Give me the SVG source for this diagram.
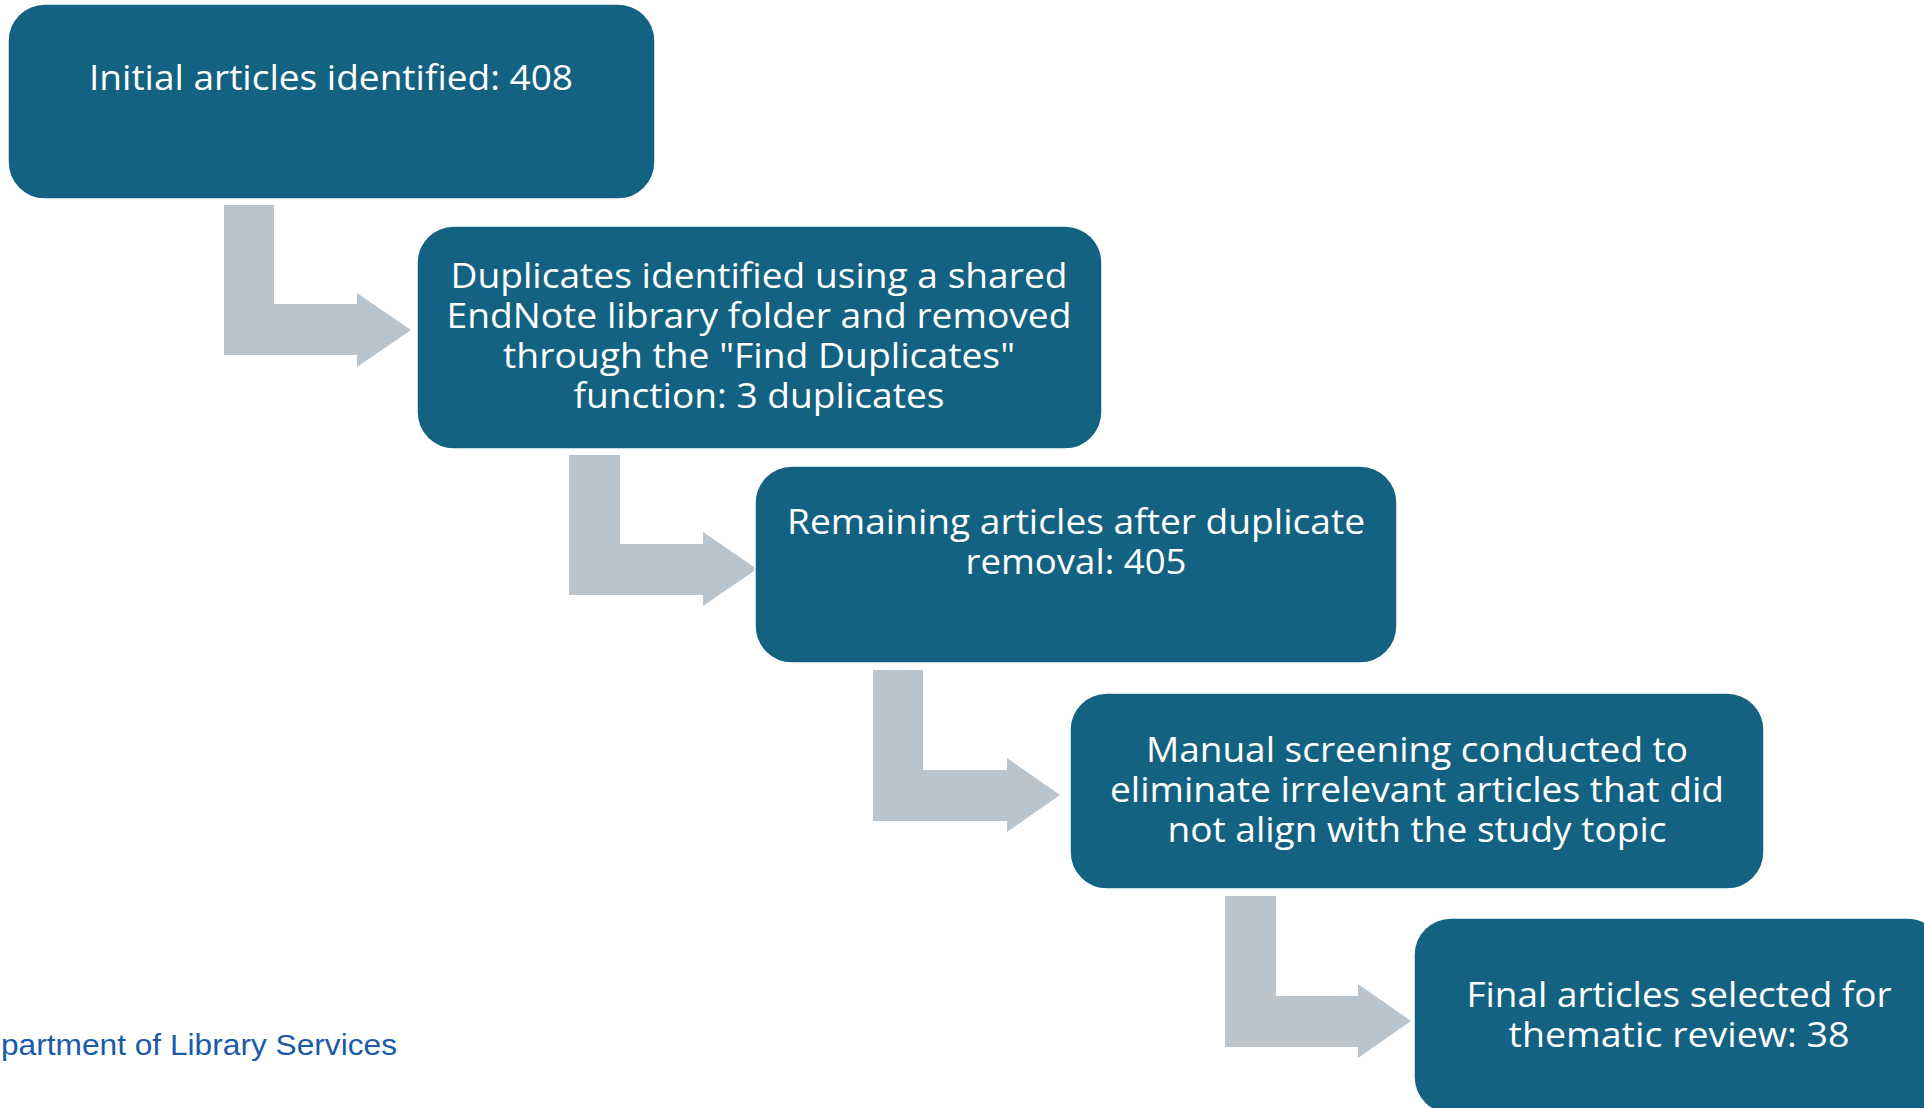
<svg xmlns="http://www.w3.org/2000/svg" width="1924" height="1108" viewBox="0 0 1924 1108">
<style>
.box{fill:#146282;stroke:#ffffff;stroke-width:1.5}
.arr{fill:#bac4cd}
.t{font-family:"Open Sans","Noto Sans",sans-serif;font-size:34px;fill:#ffffff;text-anchor:middle}
.foot{font-family:"Liberation Sans",Arial,sans-serif;font-size:29px;fill:#1a5aa8}
</style>
<rect width="1924" height="1108" fill="#ffffff"/>
<g id="connectors">
<path class="arr" d="M224,205 H274 V304 H357 V293 L411,330 L357,367 V355 H224 Z"/>
<path class="arr" d="M569,455 H620 V544 H703 V532 L757,569 L703,606 V595 H569 Z"/>
<path class="arr" d="M873,670 H923 V770 H1007 V758 L1060,795 L1007,832 V821 H873 Z"/>
<path class="arr" d="M1225,896 H1276 V996 H1358 V984 L1411,1021 L1358,1058 V1047 H1225 Z"/>
</g>
<g id="node1">
<rect class="box" x="8" y="4" width="647" height="195" rx="37"/>
<text class="t" x="331" y="90" textLength="484" lengthAdjust="spacingAndGlyphs">Initial articles identified: 408</text>
</g>
<g id="node2">
<rect class="box" x="417" y="226" width="685" height="223" rx="37"/>
<text class="t" x="759" y="288" textLength="617" lengthAdjust="spacingAndGlyphs">Duplicates identified using a shared</text>
<text class="t" x="759" y="328" textLength="625" lengthAdjust="spacingAndGlyphs">EndNote library folder and removed</text>
<text class="t" x="759" y="368" textLength="512" lengthAdjust="spacingAndGlyphs">through the "Find Duplicates"</text>
<text class="t" x="759" y="408" textLength="371" lengthAdjust="spacingAndGlyphs">function: 3 duplicates</text>
</g>
<g id="node3">
<rect class="box" x="755" y="466" width="642" height="197" rx="37"/>
<text class="t" x="1076" y="534" textLength="578" lengthAdjust="spacingAndGlyphs">Remaining articles after duplicate</text>
<text class="t" x="1076" y="574" textLength="221" lengthAdjust="spacingAndGlyphs">removal: 405</text>
</g>
<g id="node4">
<rect class="box" x="1070" y="693" width="694" height="196" rx="37"/>
<text class="t" x="1417" y="762" textLength="542" lengthAdjust="spacingAndGlyphs">Manual screening conducted to</text>
<text class="t" x="1417" y="802" textLength="614" lengthAdjust="spacingAndGlyphs">eliminate irrelevant articles that did</text>
<text class="t" x="1417" y="842" textLength="499" lengthAdjust="spacingAndGlyphs">not align with the study topic</text>
</g>
<g id="node5">
<rect class="box" x="1414" y="918" width="530" height="196" rx="37"/>
<text class="t" x="1679" y="1007" textLength="425" lengthAdjust="spacingAndGlyphs">Final articles selected for</text>
<text class="t" x="1679" y="1047" textLength="341" lengthAdjust="spacingAndGlyphs">thematic review: 38</text>
</g>
<g id="footer">
<text class="foot" x="1" y="1055" textLength="396" lengthAdjust="spacingAndGlyphs">partment of Library Services</text>
</g>
</svg>
